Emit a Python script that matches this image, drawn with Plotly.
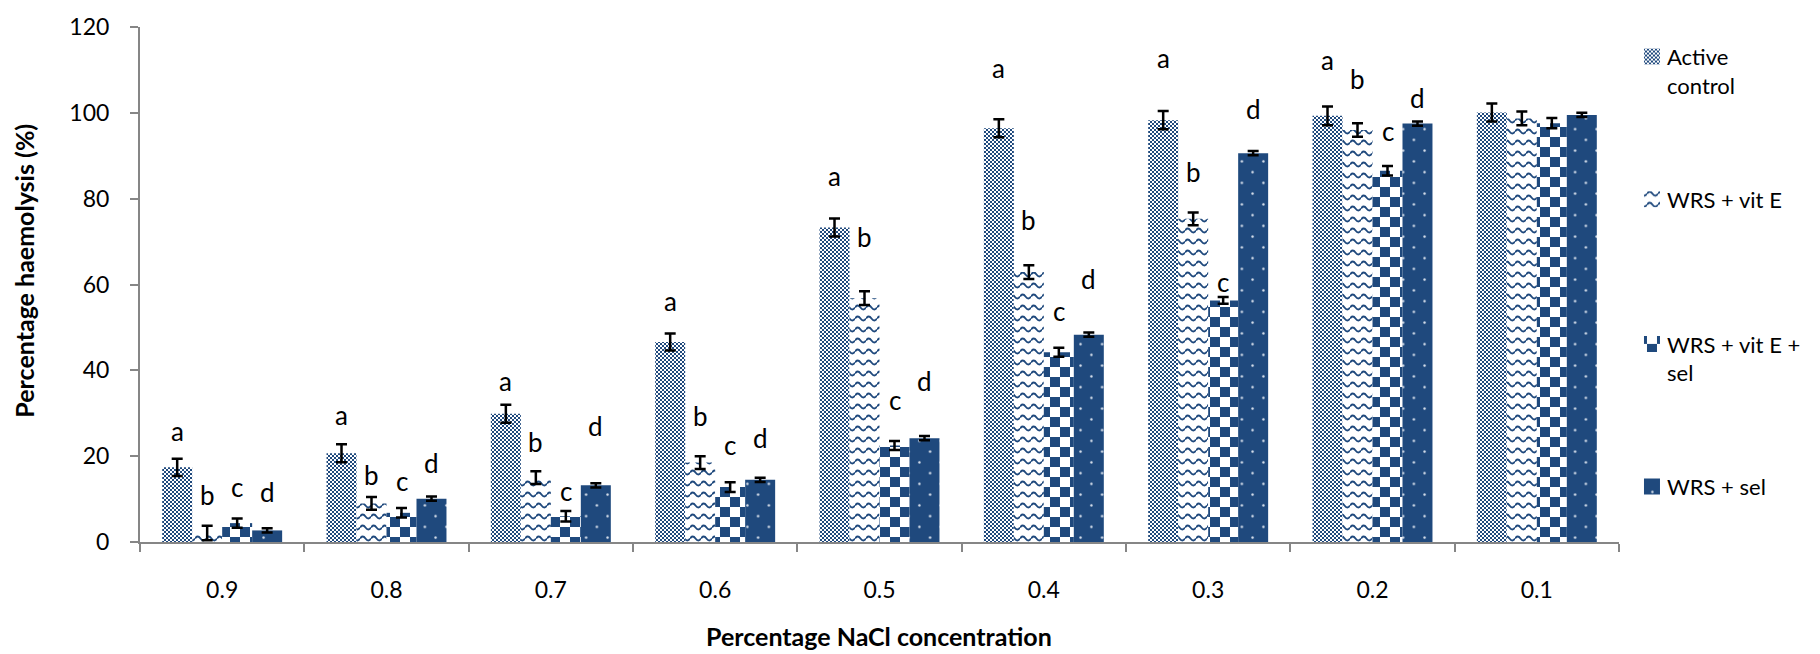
import plotly.graph_objects as go

# ---------------- data ----------------
categories = ["0.9", "0.8", "0.7", "0.6", "0.5", "0.4", "0.3", "0.2", "0.1"]
series_names = ["Active<br>control", "WRS + vit E", "WRS + vit E +<br>sel", "WRS + sel"]

active = [17.4, 20.7, 29.9, 46.6, 73.3, 96.4, 98.3, 99.3, 100.1]
active_err = [2.0, 2.1, 2.1, 2.0, 2.1, 2.1, 2.1, 2.2, 2.1]
vit_e = [2.1, 9.0, 15.0, 18.5, 56.8, 62.9, 75.3, 96.0, 98.7]
vit_e_err = [1.7, 1.5, 1.5, 1.5, 1.6, 1.6, 1.5, 1.6, 1.6]
vit_e_sel = [4.4, 6.8, 6.0, 12.8, 22.5, 44.2, 56.3, 86.5, 97.6]
vit_e_sel_err = [1.1, 1.1, 1.2, 1.15, 1.05, 1.05, 0.8, 1.1, 1.2]
sel = [2.7, 10.1, 13.2, 14.5, 24.2, 48.3, 90.6, 97.5, 99.5]
sel_err = [0.5, 0.5, 0.5, 0.5, 0.5, 0.5, 0.5, 0.5, 0.5]

letters = ["a", "b", "c", "d"]
# heights (in %) where the significance letters sit; None = no letter
label_active = [25.8, 29.6, 37.5, 56.1, 85.2, 110.5, 112.8, 112.4, None]
label_vit_e = [10.9, 15.6, 23.2, 29.3, 71.1, 75.1, 86.2, 107.8, None]
label_vit_e_sel = [12.9, 14.3, 12.0, 22.5, 33.2, 53.9, 60.5, 95.8, None]
label_sel = [11.7, 18.3, 27.0, 24.2, 37.4, 61.2, 101.0, 103.4, None]

y_ticks = [0, 20, 40, 60, 80, 100, 120]

# ---------------- style ----------------
NAVY = "#1F497D"
FONT = "Lato"
AXIS = "#868686"

values = [active, vit_e, vit_e_sel, sel]
errors = [active_err, vit_e_err, vit_e_sel_err, sel_err]
labels = [label_active, label_vit_e, label_vit_e_sel, label_sel]
fallback_patterns = [
    dict(shape=".", size=4, solidity=0.5, fgcolor=NAVY, bgcolor="white"),
    dict(shape="-", size=10, solidity=0.2, fgcolor=NAVY, bgcolor="white"),
    dict(shape="+", size=20, solidity=0.5, fgcolor=NAVY, bgcolor="white"),
    dict(shape=".", size=11, solidity=0.04, fgcolor="white", bgcolor=NAVY),
]
legend_ids = ["legend", "legend2", "legend3", "legend4"]

fig = go.Figure()
for i in range(4):
    fig.add_trace(go.Bar(
        x=categories, y=values[i], name=series_names[i],
        legend=legend_ids[i],
        marker=dict(color=NAVY if i == 3 else "white", line=dict(width=0),
                    pattern=dict(fillmode="replace", **fallback_patterns[i])),
        error_y=dict(type="data", array=errors[i], visible=True,
                     color="black", thickness=2.5, width=5.5),
    ))

bar_px = 30
offsets = [-1.5 * bar_px, -0.5 * bar_px, 0.5 * bar_px, 1.5 * bar_px]
annotations = []
for i in range(4):
    for k in range(len(categories)):
        yv = labels[i][k]
        if yv is None:
            continue
        annotations.append(dict(
            x=k, y=yv, xref="x", yref="y", text=letters[i], showarrow=False,
            xshift=offsets[i], yanchor="middle", xanchor="center",
            font=dict(family=FONT, size=26, color="black"),
        ))

annotations.append(dict(
    x=0.4997, y=-0.1827, xref="paper", yref="paper",
    text="<b>Percentage NaCl concentration</b>", showarrow=False,
    xanchor="center", yanchor="middle",
    font=dict(family=FONT, size=25, color="black")))
annotations.append(dict(
    x=-0.0784, y=0.527, xref="paper", yref="paper",
    text="<b>Percentage haemolysis (%)</b>", showarrow=False, textangle=-90,
    xanchor="center", yanchor="middle",
    font=dict(family=FONT, size=25, color="black")))

legend_tops = [0.983, 0.706, 0.425, 0.148]
legend_common = dict(x=1.0054, xanchor="left", yanchor="top", bgcolor="rgba(0,0,0,0)",
                     borderwidth=0, valign="top",
                     font=dict(family=FONT, size=22, color="black"))

layout_legends = {}
for lid, top in zip(legend_ids, legend_tops):
    layout_legends[lid] = dict(y=top, **legend_common)

fig.update_layout(
    width=1820, height=654,
    margin=dict(l=140, r=201, t=22, b=112, pad=0),
    paper_bgcolor="white", plot_bgcolor="white",
    barmode="group", bargap=0.27, bargroupgap=0,
    font=dict(family=FONT, size=22, color="black"),
    showlegend=True,
    annotations=annotations,
    xaxis=dict(type="category", showline=True, linecolor=AXIS, linewidth=2,
               ticks="outside", tickson="boundaries", ticklen=8, tickwidth=2,
               tickcolor=AXIS, showgrid=False, zeroline=False,
               tickfont=dict(family=FONT, size=23, color="black"),
               ticklabelstandoff=26),
    yaxis=dict(range=[0, 120], tickvals=y_ticks, showline=True, linecolor=AXIS,
               linewidth=2, ticks="outside", ticklen=8, tickwidth=2, tickcolor=AXIS,
               showgrid=False, zeroline=False,
               tickfont=dict(family=FONT, size=23, color="black"),
               ticklabelstandoff=16),
    **layout_legends,
)

post_js = r"""
var gd = document.getElementById('{plot_id}');
var NS = 'http://www.w3.org/2000/svg';
function el(tag, attrs, parent){
  var e = document.createElementNS(NS, tag);
  for (var k in attrs) e.setAttribute(k, attrs[k]);
  if (parent) parent.appendChild(e);
  return e;
}
function build(){
  var svg = gd.querySelector('svg.main-svg');
  if (!svg) return;
  var defs = svg.querySelector('defs');
  if (!defs) { defs = el('defs', {}, svg); }
  if (!document.getElementById('rk-pat-0')) {
    var N = '#1F497D';
    var p = el('pattern', {id:'rk-pat-0', patternUnits:'userSpaceOnUse', width:4, height:4}, defs);
    el('rect', {x:0, y:0, width:4, height:4, fill:'#ffffff'}, p);
    el('rect', {x:0, y:0, width:2, height:2, fill:N}, p);
    el('rect', {x:2, y:2, width:2, height:2, fill:N}, p);
    p = el('pattern', {id:'rk-pat-1', patternUnits:'userSpaceOnUse', width:11, height:11}, defs);
    el('rect', {x:0, y:0, width:11, height:11, fill:'#ffffff'}, p);
    el('path', {d:'M0,5.5 Q2.75,1.5 5.5,5.5 T11,5.5', fill:'none', stroke:N, 'stroke-width':1.8}, p);
    p = el('pattern', {id:'rk-pat-2', patternUnits:'userSpaceOnUse', width:20, height:20}, defs);
    el('rect', {x:0, y:0, width:20, height:20, fill:'#ffffff'}, p);
    el('rect', {x:0, y:0, width:10, height:10, fill:N}, p);
    el('rect', {x:10, y:10, width:10, height:10, fill:N}, p);
    p = el('pattern', {id:'rk-pat-3', patternUnits:'userSpaceOnUse', width:21.5, height:21.5}, defs);
    el('rect', {x:0, y:0, width:21.5, height:21.5, fill:N}, p);
    el('circle', {cx:5.4, cy:5.4, r:1.2, fill:'#dfe6f0'}, p);
    el('circle', {cx:16.1, cy:16.1, r:1.2, fill:'#dfe6f0'}, p);
  }
  gd.querySelectorAll('.barlayer .trace').forEach(function(g){
    var d = g.__data__;
    if (!d || !d[0] || !d[0].trace) return;
    var idx = d[0].trace.index;
    g.querySelectorAll('g.points path').forEach(function(pt){
      pt.style.fill = 'url(#rk-pat-' + idx + ')';
      pt.style.stroke = 'none';
    });
  });
  gd.querySelectorAll('.infolayer .traces').forEach(function(g){
    var d = g.__data__;
    if (!d || !d[0] || !d[0].trace) return;
    var idx = d[0].trace.index;
    g.querySelectorAll('.legendpoints path').forEach(function(pt){
      pt.setAttribute('d', 'M-3,-8H13V8H-3Z');
      pt.style.fill = 'url(#rk-pat-' + idx + ')';
      pt.style.stroke = 'none';
    });
  });
}
build();
gd.on('plotly_afterplot', build);
"""

fig.write_html("out.html", post_script=post_js)
